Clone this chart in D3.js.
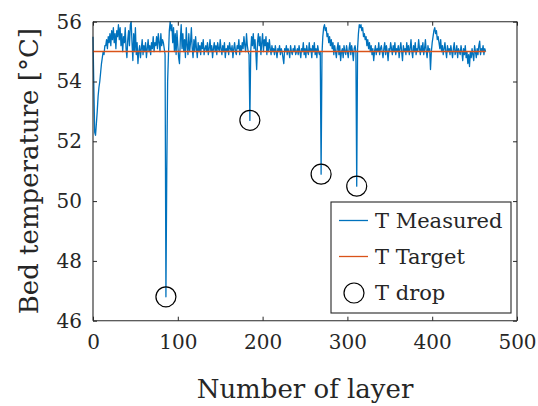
<!DOCTYPE html>
<html>
<head>
<meta charset="utf-8">
<script src="https://cdn.jsdelivr.net/npm/d3@7"></script>
<style>
html,body{margin:0;padding:0;background:#fff;}
svg{display:block;}
text{font-family:"DejaVu Serif",serif;fill:#262626;}
</style>
</head>
<body>
<svg id="chart" width="538" height="406"></svg>
<script>
// ---- data ----
const measuredTemp = [
  55.5, 53.8, 52.3, 52.2, 52.6, 53.0, 53.5, 53.8, 54.0, 54.3, 54.6, 54.8, 55.0, 54.9, 55.2,
  55.2, 55.4, 55.1, 55.5, 55.3, 55.6, 55.2, 55.7, 55.4, 55.8, 55.3, 55.6, 55.1, 55.7, 55.5,
  55.9, 55.4, 55.8, 55.2, 55.6, 55.0, 55.5, 55.3, 55.8, 55.1, 54.8, 55.4, 55.7, 55.2, 55.9,
  56.0, 55.3, 54.7, 55.6, 55.0, 55.8, 54.9, 55.3, 54.6, 55.0, 55.2, 54.8, 55.1, 55.4, 54.9,
  55.2, 55.0, 55.3, 54.8, 55.1, 55.4, 55.0, 55.2, 54.9, 55.3, 55.1, 55.5, 55.0, 55.3, 55.2,
  55.5, 55.1, 55.6, 55.3, 55.0, 55.6, 55.2, 55.4, 55.3, 55.1,
  54.9, 46.8, 51.0, 54.0, 54.9, 55.7, 56.0,
  55.7, 55.9, 55.3, 55.8, 55.0, 55.6, 54.9, 55.7, 55.2, 54.8, 54.6, 55.4, 55.9, 55.1, 55.6,
  55.0, 55.4, 54.8, 55.8, 55.2, 54.9, 55.6, 55.0, 55.3, 55.8, 55.1, 54.8, 55.4, 55.0, 55.5,
  55.1, 54.8, 55.3, 55.0, 55.2, 54.9, 55.3, 55.1, 55.4, 54.9, 55.1, 55.2, 55.0, 55.3, 54.9,
  55.1, 55.4, 55.0, 55.2, 54.8, 55.1, 55.3, 55.0, 55.2, 54.9, 55.3, 55.1, 55.0, 55.4, 55.1,
  54.9, 55.2, 55.0, 55.3, 54.8, 55.1, 55.0, 55.2, 54.9, 55.3, 55.1, 55.0, 55.2, 54.8, 55.1,
  55.3, 55.0, 54.9, 55.2, 55.1, 55.4, 54.9, 55.2, 55.0, 55.3, 55.1, 55.5, 55.2, 55.0, 55.6,
  55.2, 55.0, 54.9, 52.7, 55.0, 55.5, 55.2, 55.6, 55.1, 55.4, 55.0, 54.4, 55.3, 55.6, 55.2,
  55.5, 54.9, 55.3, 55.6, 55.0, 55.4, 55.2, 55.5, 54.9, 55.3, 55.0, 55.4, 55.1, 54.9, 55.2,
  55.0, 55.1, 54.9, 55.2, 55.0, 54.8, 55.1, 55.0, 55.2, 54.9, 55.1, 55.0, 54.8, 54.6, 55.1,
  55.0, 55.2, 54.9, 55.1, 55.0, 54.8, 55.2, 55.0, 54.9, 55.1, 55.0, 55.2, 54.9, 55.0, 55.1,
  54.9, 55.2, 55.0, 54.8, 55.1, 55.0, 55.3, 54.9, 55.1, 54.8, 55.2, 55.0, 54.9, 55.3, 55.0,
  55.1, 54.8, 55.2, 55.0, 55.3, 54.9, 55.1, 54.8, 55.2, 55.0, 54.9, 55.0, 50.9,
  54.9, 55.5, 55.8, 55.9, 55.7, 55.8, 55.5, 55.6, 55.3, 55.5, 55.2, 55.4, 55.1, 55.3, 54.9,
  55.2, 55.0, 54.8, 55.1, 55.3, 54.9, 55.2, 54.7, 55.0, 55.1, 54.8, 55.2, 55.0, 54.9, 55.2,
  55.0, 54.8, 55.1, 55.3, 54.9, 55.2, 55.0, 54.7, 55.1, 55.2, 55.0, 50.5,
  55.1, 55.6, 55.9, 55.8, 55.9, 55.7, 55.8, 55.5, 55.6, 55.4, 55.5, 55.2, 55.4, 55.1, 55.3,
  55.0, 55.2, 54.9, 55.1, 54.7, 55.0, 55.2, 54.9, 55.1, 55.0, 55.3, 54.9, 55.1, 55.2, 55.0,
  54.8, 55.1, 55.3, 54.9, 55.2, 55.0, 54.7, 55.1, 55.0, 55.3, 55.1, 54.9, 55.2, 55.0, 55.3,
  54.9, 55.1, 55.0, 55.2, 54.8, 55.1, 55.3, 55.0, 54.7, 55.2, 55.0, 55.1, 54.9, 55.3, 55.0,
  55.2, 54.9, 55.1, 55.4, 55.0, 54.8, 55.2, 55.0, 55.3, 54.9, 55.1, 55.0, 55.4, 55.1, 54.9,
  55.2, 55.0, 55.3, 54.9, 55.1, 55.4, 55.0, 54.8, 55.2, 55.0, 55.1, 54.4, 55.0, 55.3, 55.5,
  55.7, 55.8, 55.6, 55.7, 55.4, 55.5, 55.3, 55.1, 55.4, 55.0, 55.2, 54.9, 55.1, 55.3, 55.0,
  54.8, 55.2, 55.0, 55.1, 54.9, 55.2, 55.0, 54.8, 55.1, 55.3, 54.9, 55.0, 55.2, 54.8, 55.1,
  55.0, 54.9, 55.2, 55.0, 54.7, 55.1, 54.9, 55.2, 54.8, 55.0, 54.6, 54.9, 54.5, 55.0, 54.8,
  55.1, 54.9, 54.7, 55.2, 55.0, 54.8, 55.1, 54.9, 55.2, 55.35, 54.9, 55.1, 55.0, 55.2, 54.9, 55.1, 55.0
];
const targetTemp = 55;
const targetLayers = [0, 463];
const dropLayers = [86, 185, 269, 311];
const dropValues = [46.8, 52.7, 50.9, 50.5];
const xTicks = [0, 100, 200, 300, 400, 500];
const yTicks = [46, 48, 50, 52, 54, 56];
const legendLabels = ["T Measured", "T Target", "T drop"];
const colors = {measured: "#0072BD", target: "#D95319", drop: "#000000", axis: "#262626"};

// ---- layout ----
const L = 93, R = 517, T = 21.7, B = 320.7;
const svg = d3.select("#chart");
const x = d3.scaleLinear().domain([0, 500]).range([L, R]);
const y = d3.scaleLinear().domain([46, 56]).range([B, T]);

const plot = svg.append("g");

// measured
plot.append("path")
  .datum(measuredTemp.map((v, i) => [i, v]))
  .attr("fill", "none").attr("stroke", colors.measured).attr("stroke-width", 1.3)
  .attr("stroke-linejoin", "round")
  .attr("d", d3.line().x(d => x(d[0])).y(d => y(d[1])));

// target line (drawn on top)
plot.append("path")
  .datum(targetLayers.map(l => [l, targetTemp]))
  .attr("fill", "none").attr("stroke", colors.target).attr("stroke-width", 1.5)
  .attr("d", d3.line().x(d => x(d[0])).y(d => y(d[1])));

// drops
plot.selectAll("circle.drop").data(dropLayers.map((l, i) => [l, dropValues[i]]))
  .enter().append("circle").attr("class", "drop")
  .attr("cx", d => x(d[0])).attr("cy", d => y(d[1])).attr("r", 10)
  .attr("fill", "none").attr("stroke", colors.drop).attr("stroke-width", 1.2);

// axes
const tl = 4;
const axB = svg.append("g").attr("transform", `translate(0,${B})`)
  .call(d3.axisBottom(x).tickValues(xTicks).tickSize(-tl).tickPadding(14).tickFormat(d3.format("d")));
const axT = svg.append("g").attr("transform", `translate(0,${T})`)
  .call(d3.axisTop(x).tickValues(xTicks).tickSize(-tl).tickFormat(""));
const axL = svg.append("g").attr("transform", `translate(${L},0)`)
  .call(d3.axisLeft(y).tickValues(yTicks).tickSize(-tl).tickPadding(11).tickFormat(d3.format("d")));
const axR = svg.append("g").attr("transform", `translate(${R},0)`)
  .call(d3.axisRight(y).tickValues(yTicks).tickSize(-tl).tickFormat(""));
[axB, axT, axL, axR].forEach(g => {
  g.selectAll(".domain").attr("stroke", colors.axis).attr("stroke-width", 1.1);
  g.selectAll(".tick line").attr("stroke", colors.axis).attr("stroke-width", 1);
  g.selectAll(".tick text").attr("font-family", "DejaVu Serif").attr("font-size", 20).attr("fill", colors.axis);
});
axB.selectAll(".domain").attr("d", `M${L},0H${R}`);
axT.selectAll(".domain").attr("d", `M${L},0H${R}`);
axL.selectAll(".domain").attr("d", `M0,${B}V${T}`);
axR.selectAll(".domain").attr("d", `M0,${B}V${T}`);

// axis labels
svg.append("text").attr("x", (L + R) / 2).attr("y", 397.5).attr("text-anchor", "middle")
  .attr("font-size", 26).text("Number of layer");
svg.append("text").attr("transform", `translate(38,${(T + B) / 2}) rotate(-90)`)
  .attr("text-anchor", "middle").attr("font-size", 26).text("Bed temperature [°C]");

// legend
const lg = svg.append("g");
lg.append("rect").attr("x", 331).attr("y", 202).attr("width", 180).attr("height", 111)
  .attr("fill", "#fff").attr("stroke", colors.axis).attr("stroke-width", 1.1);
const rowsY = [220.5, 256.5, 293];
lg.append("line").attr("x1", 339).attr("x2", 368).attr("y1", rowsY[0]).attr("y2", rowsY[0])
  .attr("stroke", colors.measured).attr("stroke-width", 1.3);
lg.append("line").attr("x1", 339).attr("x2", 368).attr("y1", rowsY[1]).attr("y2", rowsY[1])
  .attr("stroke", colors.target).attr("stroke-width", 1.3);
lg.append("circle").attr("cx", 354).attr("cy", rowsY[2]).attr("r", 10)
  .attr("fill", "none").attr("stroke", colors.drop).attr("stroke-width", 1.2);
lg.selectAll("text.lab").data(legendLabels).enter().append("text").attr("class", "lab")
  .attr("x", 375).attr("y", (d, i) => rowsY[i]).attr("dy", "0.35em")
  .attr("font-size", 21).text(d => d);
</script>
</body>
</html>
